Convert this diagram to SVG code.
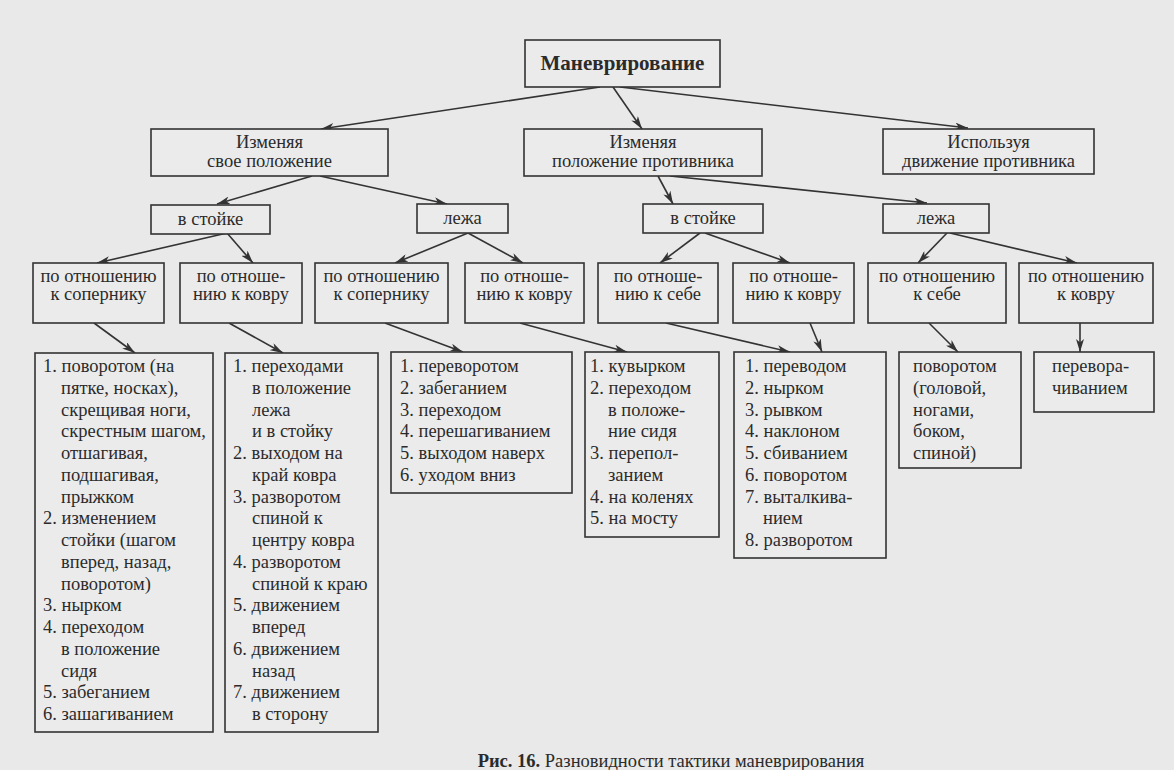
<svg xmlns="http://www.w3.org/2000/svg" width="1174" height="770" viewBox="0 0 1174 770">
<defs>
<style>
.bg{fill:#e9e9e9}
.box{fill:#ebebeb;stroke:#333;stroke-width:1.6}
text{font-family:"Liberation Serif","Times New Roman",serif;font-size:18.5px;fill:#2b2b2b}
.c{text-anchor:middle}
.title{font-weight:bold;font-size:21px}
.edge{stroke:#333;stroke-width:1.6;fill:none;marker-end:url(#ah)}
</style>
<marker id="ah" viewBox="0 0 13 8" refX="13" refY="4" markerWidth="13" markerHeight="8" orient="auto" markerUnits="userSpaceOnUse">
<path d="M0,0 L13,4 L0,8 L3.5,4 z" fill="#333"/>
</marker>
</defs>
<rect class="bg" x="0" y="0" width="1174" height="770"/>

<g id="connectors">
<line class="edge" x1="600" y1="87" x2="321" y2="129"/>
<line class="edge" x1="613" y1="87" x2="642" y2="129"/>
<line class="edge" x1="620" y1="87" x2="968" y2="128"/>
<line class="edge" x1="312" y1="176" x2="217" y2="204"/>
<line class="edge" x1="320" y1="176" x2="447" y2="204"/>
<line class="edge" x1="658" y1="176" x2="673" y2="204"/>
<line class="edge" x1="670" y1="176" x2="927" y2="203"/>
<line class="edge" x1="227" y1="233" x2="97" y2="263"/>
<line class="edge" x1="227" y1="233" x2="253" y2="263"/>
<line class="edge" x1="468" y1="233" x2="395" y2="263"/>
<line class="edge" x1="468" y1="233" x2="523" y2="263"/>
<line class="edge" x1="700" y1="233" x2="660" y2="263"/>
<line class="edge" x1="705" y1="233" x2="790" y2="263"/>
<line class="edge" x1="947" y1="233" x2="918" y2="263"/>
<line class="edge" x1="950" y1="233" x2="1077" y2="263"/>
<line class="edge" x1="94" y1="323" x2="135" y2="353"/>
<line class="edge" x1="229" y1="323" x2="283" y2="353"/>
<line class="edge" x1="385" y1="323" x2="463" y2="352"/>
<line class="edge" x1="520" y1="323" x2="627" y2="352"/>
<line class="edge" x1="666" y1="323" x2="790" y2="352"/>
<line class="edge" x1="810" y1="323" x2="822" y2="352"/>
<line class="edge" x1="929" y1="323" x2="958" y2="352"/>
<line class="edge" x1="1080" y1="323" x2="1080" y2="352"/>
</g>

<g id="n-root"><rect class="box" x="525" y="40" width="195" height="47"/><text class="c title" x="622.5" y="70">Маневрирование</text></g>

<g id="n-own"><rect class="box" x="151" y="129" width="237" height="47"/><text class="c" x="269.5" y="148">Изменяя</text><text class="c" x="269.5" y="167">свое положение</text></g>
<g id="n-opp"><rect class="box" x="524" y="129" width="238" height="47"/><text class="c" x="643" y="148">Изменяя</text><text class="c" x="643" y="167">положение противника</text></g>
<g id="n-use"><rect class="box" x="883" y="129" width="211" height="45"/><text class="c" x="988.5" y="148">Используя</text><text class="c" x="988.5" y="167">движение противника</text></g>

<g id="n-own-stand"><rect class="box" x="151" y="205" width="119" height="29"/><text class="c" x="210.5" y="225">в стойке</text></g>
<g id="n-own-lie"><rect class="box" x="417" y="204" width="91" height="29"/><text class="c" x="462.5" y="224">лежа</text></g>
<g id="n-opp-stand"><rect class="box" x="643" y="204" width="120" height="29"/><text class="c" x="703" y="224">в стойке</text></g>
<g id="n-opp-lie"><rect class="box" x="883" y="204" width="106" height="29"/><text class="c" x="936" y="224">лежа</text></g>

<g id="n-l3-1"><rect class="box" x="33" y="263" width="131" height="60"/><text class="c" x="98.5" y="282">по отношению</text><text class="c" x="98.5" y="300">к сопернику</text></g>
<g id="n-l3-2"><rect class="box" x="180" y="263" width="122" height="60"/><text class="c" x="241" y="282">по отноше-</text><text class="c" x="241" y="300">нию к ковру</text></g>
<g id="n-l3-3"><rect class="box" x="315" y="263" width="133" height="60"/><text class="c" x="381.5" y="282">по отношению</text><text class="c" x="381.5" y="300">к сопернику</text></g>
<g id="n-l3-4"><rect class="box" x="465" y="263" width="119" height="60"/><text class="c" x="524.5" y="282">по отноше-</text><text class="c" x="524.5" y="300">нию к ковру</text></g>
<g id="n-l3-5"><rect class="box" x="598" y="263" width="120" height="60"/><text class="c" x="658" y="282">по отноше-</text><text class="c" x="658" y="300">нию к себе</text></g>
<g id="n-l3-6"><rect class="box" x="733" y="263" width="121" height="60"/><text class="c" x="793.5" y="282">по отноше-</text><text class="c" x="793.5" y="300">нию к ковру</text></g>
<g id="n-l3-7"><rect class="box" x="868" y="263" width="138" height="60"/><text class="c" x="937" y="282">по отношению</text><text class="c" x="937" y="300">к себе</text></g>
<g id="n-l3-8"><rect class="box" x="1019" y="263" width="134" height="60"/><text class="c" x="1086" y="282">по отношению</text><text class="c" x="1086" y="300">к ковру</text></g>

<g id="n-list-a"><rect class="box" x="35" y="353" width="178" height="379"/>
<text x="43" y="372">1. поворотом (на</text>
<text x="61" y="393.75">пятке, носках),</text>
<text x="61" y="415.5">скрещивая ноги,</text>
<text x="61" y="437.25">скрестным шагом,</text>
<text x="61" y="459">отшагивая,</text>
<text x="61" y="480.75">подшагивая,</text>
<text x="61" y="502.5">прыжком</text>
<text x="43" y="524.25">2. изменением</text>
<text x="61" y="546">стойки (шагом</text>
<text x="61" y="567.75">вперед, назад,</text>
<text x="61" y="589.5">поворотом)</text>
<text x="43" y="611.25">3. нырком</text>
<text x="43" y="633">4. переходом</text>
<text x="61" y="654.75">в положение</text>
<text x="61" y="676.5">сидя</text>
<text x="43" y="698.25">5. забеганием</text>
<text x="43" y="720">6. зашагиванием</text>
</g>

<g id="n-list-b"><rect class="box" x="225" y="353" width="153" height="379"/>
<text x="233" y="372">1. переходами</text>
<text x="252" y="393.75">в положение</text>
<text x="252" y="415.5">лежа</text>
<text x="252" y="437.25">и в стойку</text>
<text x="233" y="459">2. выходом на</text>
<text x="252" y="480.75">край ковра</text>
<text x="233" y="502.5">3. разворотом</text>
<text x="252" y="524.25">спиной к</text>
<text x="252" y="546">центру ковра</text>
<text x="233" y="567.75">4. разворотом</text>
<text x="252" y="589.5">спиной к краю</text>
<text x="233" y="611.25">5. движением</text>
<text x="252" y="633">вперед</text>
<text x="233" y="654.75">6. движением</text>
<text x="252" y="676.5">назад</text>
<text x="233" y="698.25">7. движением</text>
<text x="252" y="720">в сторону</text>
</g>

<g id="n-list-c"><rect class="box" x="391" y="352" width="181" height="141"/>
<text x="400" y="372">1. переворотом</text>
<text x="400" y="393.75">2. забеганием</text>
<text x="400" y="415.5">3. переходом</text>
<text x="400" y="437.25">4. перешагиванием</text>
<text x="400" y="459">5. выходом наверх</text>
<text x="400" y="480.75">6. уходом вниз</text>
</g>

<g id="n-list-d"><rect class="box" x="585" y="352" width="134" height="185"/>
<text x="590" y="372">1. кувырком</text>
<text x="590" y="393.75">2. переходом</text>
<text x="608" y="415.5">в положе-</text>
<text x="608" y="437.25">ние сидя</text>
<text x="590" y="459">3. перепол-</text>
<text x="608" y="480.75">занием</text>
<text x="590" y="502.5">4. на коленях</text>
<text x="590" y="524.25">5. на мосту</text>
</g>

<g id="n-list-e"><rect class="box" x="734" y="352" width="152" height="206"/>
<text x="745" y="372">1. переводом</text>
<text x="745" y="393.75">2. нырком</text>
<text x="745" y="415.5">3. рывком</text>
<text x="745" y="437.25">4. наклоном</text>
<text x="745" y="459">5. сбиванием</text>
<text x="745" y="480.75">6. поворотом</text>
<text x="745" y="502.5">7. выталкива-</text>
<text x="763" y="524.25">нием</text>
<text x="745" y="546">8. разворотом</text>
</g>

<g id="n-list-f"><rect class="box" x="899" y="352" width="122" height="116"/>
<text x="913" y="372">поворотом</text>
<text x="913" y="393.75">(головой,</text>
<text x="913" y="415.5">ногами,</text>
<text x="913" y="437.25">боком,</text>
<text x="913" y="459">спиной)</text>
</g>

<g id="n-list-g"><rect class="box" x="1034" y="352" width="120" height="60"/>
<text x="1052" y="372">перевора-</text>
<text x="1052" y="393.75">чиванием</text>
</g>

<text id="caption" class="c" x="671" y="767"><tspan font-weight="bold">Рис. 16.</tspan> Разновидности тактики маневрирования</text>
</svg>
